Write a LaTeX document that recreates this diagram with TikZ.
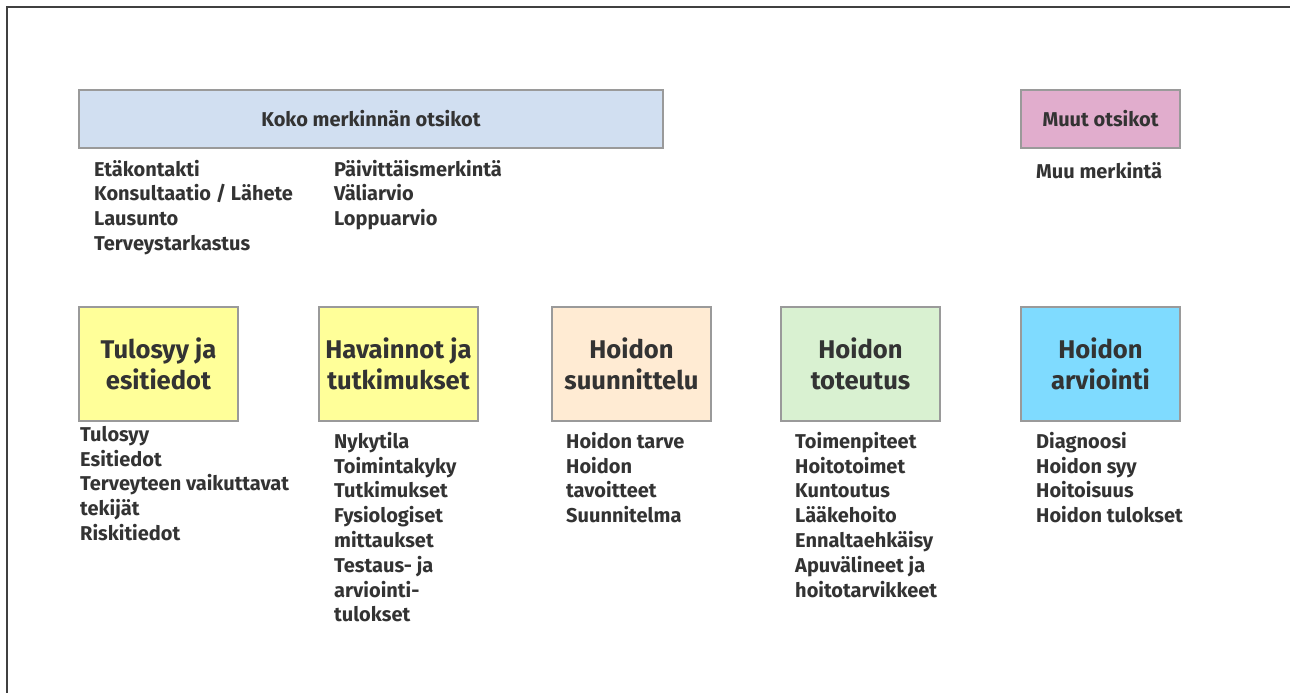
\documentclass[tikz,border=0pt]{standalone}
\usepackage{fontspec}
\setmainfont{Fira Sans}
\definecolor{ink}{HTML}{333333}
\definecolor{frame}{HTML}{404040}
\definecolor{edge}{HTML}{9A9A9A}
\definecolor{blueFill}{HTML}{D1DFF1}
\definecolor{pinkFill}{HTML}{E1ADCD}
\definecolor{yellowFill}{HTML}{FFFF99}
\definecolor{peachFill}{HTML}{FFEBD3}
\definecolor{greenFill}{HTML}{D9F1D1}
\definecolor{cyanFill}{HTML}{7FDBFF}
\begin{document}
\begin{tikzpicture}[x=1pt,y=-1pt,
  header/.style={draw=edge, line width=2pt, inner sep=0pt, align=center, text=ink,
    font=\bfseries\fontsize{20}{24}\selectfont, minimum height=58pt},
  phase/.style={draw=edge, line width=2pt, inner sep=0pt, align=center, text=ink,
    font=\bfseries\fontsize{25.6}{31}\selectfont, minimum width=159pt, minimum height=114pt},
  items/.style={inner sep=0pt, anchor=north west, align=left, text=ink,
    font=\bfseries\fontsize{20}{24.8}\selectfont}]
\useasboundingbox (0,0) rectangle (1290,693);

% outer frame: top and left edges only
\coordinate (fb) at (7,693);
\coordinate (fc) at (7,7);
\coordinate (fr) at (1290,7);
\draw[frame, line width=2pt] (fb) -- (fc) -- (fr);

% header bars
\node[header, fill=blueFill, minimum width=584pt] (koko) at (371,119) {Koko merkinnän otsikot};
\node[header, fill=pinkFill, minimum width=159pt] (muut) at (1100.5,119) {Muut otsikot};

% header item lists (top = first baseline minus strut height)
\node[items] (kokoA) at (94,158.5) {\strut Etäkontakti\\Konsultaatio / Lähete\\Lausunto\\Terveystarkastus};
\node[items] (kokoB) at (334,158.5) {\strut Päivittäismerkintä\\Väliarvio\\Loppuarvio};
\node[items] (muutA) at (1036,160.7) {\strut Muu merkintä};

% phase boxes
\node[phase, fill=yellowFill] (tulo) at (158.5,363.5) {Tulosyy ja\\esitiedot};
\node[phase, fill=yellowFill] (hav)  at (398.5,363.5) {Havainnot ja\\tutkimukset};
\node[phase, fill=peachFill]  (suun) at (631.5,363.5) {Hoidon\\suunnittelu};
\node[phase, fill=greenFill]  (tot)  at (860.5,363.5) {Hoidon\\toteutus};
\node[phase, fill=cyanFill]   (arv)  at (1100.5,363.5) {Hoidon\\arviointi};

% phase item lists
\node[items] (tuloL) at (80,423.8) {\strut Tulosyy\\Esitiedot\\Terveyteen vaikuttavat\\tekijät\\Riskitiedot};
\node[items] (havL) at (334,430.8) {\strut Nykytila\\Toimintakyky\\Tutkimukset\\Fysiologiset\\mittaukset\\Testaus- ja\\arviointi-\\tulokset};
\node[items] (suunL) at (566,430.8) {\strut Hoidon tarve\\Hoidon\\tavoitteet\\Suunnitelma};
\node[items] (totL) at (795,430.8) {\strut Toimenpiteet\\Hoitotoimet\\Kuntoutus\\Lääkehoito\\Ennaltaehkäisy\\Apuvälineet ja\\hoitotarvikkeet};
\node[items] (arvL) at (1036,430.8) {\strut Diagnoosi\\Hoidon syy\\Hoitoisuus\\Hoidon tulokset};
\end{tikzpicture}
\end{document}
